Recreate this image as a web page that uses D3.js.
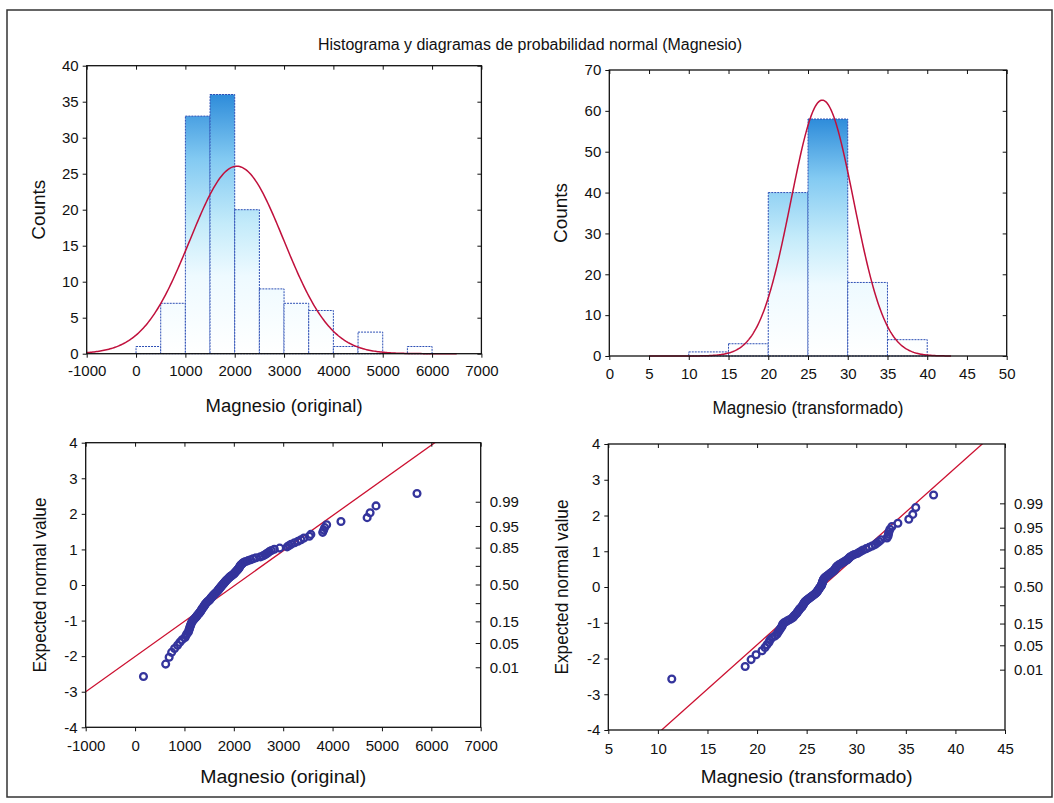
<!DOCTYPE html>
<html>
<head>
<meta charset="utf-8">
<script src="https://cdn.jsdelivr.net/npm/d3@7"></script>
<style>
  body { margin: 0; background: #fff; }
  svg { display: block; }
  text { font-family: "Liberation Sans", Arial, sans-serif; fill: #111; }
</style>
</head>
<body>
<svg id="chart" width="1054" height="803"></svg>
<script>
// ---- data ----------------------------------------------------------------
// Histogram of the original magnesium values (bin edges, counts per bin)
const origBinEdges = [-500, 0, 500, 1000, 1500, 2000, 2500, 3000, 3500, 4000, 4500, 5000, 5500, 6000, 6500];
const origCounts   = [0, 1, 7, 33, 36, 20, 9, 7, 6, 1, 3, 0, 1, 0];

// Histogram of the transformed values
const transBinEdges = [5, 10, 15, 20, 25, 30, 35, 40, 45];
const transCounts   = [0, 1, 3, 40, 58, 18, 4, 0];

// Normal fits drawn over the histograms
const origFit  = [2043, 950];   // mean, sd
const transFit = [26.8, 3.95];

// Reference lines of the normal probability plots
const origLine  = [2030, 1010]; // mean, sd
const transLine = [26.54, 4.04];

// Sorted observations (original scale)
const origValues = [
  170,
  620, 690, 740, 800, 860, 905, 950,
  1010, 1030, 1050, 1080, 1090, 1100, 1110, 1120, 1130, 1140, 1150, 1170,
  1190, 1210, 1230, 1250, 1260, 1280, 1300, 1310, 1330, 1340,
  1350, 1360, 1375, 1390, 1400, 1410, 1420, 1435, 1450, 1465, 1480,
  1505, 1515, 1530, 1540, 1555, 1570, 1580, 1595, 1610, 1625, 1640, 1655, 1668,
  1680, 1690, 1700, 1715, 1725, 1740, 1750, 1760, 1775, 1785, 1800, 1810, 1825, 1836,
  1850, 1865, 1880, 1895, 1910, 1925, 1945, 1965, 1985,
  2005, 2015, 2030, 2045, 2060, 2075, 2090, 2100, 2110, 2120, 2130, 2140, 2160, 2180, 2200, 2240, 2290, 2340, 2390, 2450,
  2540, 2590, 2630, 2660, 2690, 2720, 2760, 2820, 2930,
  3080, 3120, 3160, 3230, 3300, 3360, 3420,
  3530, 3560, 3800, 3820, 3840, 3880,
  4170,
  4700, 4760, 4880,
  5710
];

// Sorted observations (transformed scale)
const transValues = [
  11.4,
  18.8, 19.4, 19.9,
  20.5, 20.8, 21.0, 21.2, 21.3, 21.5, 21.8, 22.0, 22.1, 22.2, 22.3, 22.4, 22.5, 22.55, 22.6, 22.7,
  22.9, 23.1, 23.3, 23.5, 23.65, 23.7, 23.8, 23.9, 24.0, 24.05, 24.1, 24.2, 24.25, 24.3, 24.4, 24.5,
  24.55, 24.6, 24.65, 24.7, 24.75, 24.8, 24.85, 24.95,
  25.05, 25.15, 25.25, 25.35, 25.45, 25.55, 25.65, 25.75, 25.85, 25.9, 26.0, 26.05, 26.1, 26.15, 26.2,
  26.25, 26.3, 26.35, 26.4, 26.45, 26.5, 26.52, 26.55, 26.57, 26.6, 26.62, 26.65, 26.68, 26.7, 26.75,
  26.8, 26.9, 27.0, 27.1, 27.2, 27.3, 27.4, 27.5, 27.6, 27.7, 27.8, 27.85, 27.9, 27.95, 28.0, 28.1,
  28.2, 28.35, 28.5, 28.65, 28.8, 28.95, 29.1, 29.2, 29.3, 29.4, 29.6, 29.8,
  30.1, 30.3, 30.5, 30.7, 31.0, 31.3, 31.6, 31.9, 32.1, 32.3, 32.5, 33.1, 33.2, 33.25, 33.3, 33.4, 33.6, 34.2,
  35.3, 35.7, 36.0, 37.8
];

// Tick values
const origTicks       = [-1000, 0, 1000, 2000, 3000, 4000, 5000, 6000, 7000];
const transHistTicks  = [0, 5, 10, 15, 20, 25, 30, 35, 40, 45, 50];
const transQQTicks    = [5, 10, 15, 20, 25, 30, 35, 40, 45];
const countTicksOrig  = [0, 5, 10, 15, 20, 25, 30, 35, 40];
const countTicksTrans = [0, 10, 20, 30, 40, 50, 60, 70];
const zTicks          = [-4, -3, -2, -1, 0, 1, 2, 3, 4];
const probTicks       = [0.01, 0.05, 0.15, 0.3, 0.5, 0.7, 0.85, 0.95, 0.99];
const probLabels      = ["0.01", "0.05", "0.15", "", "0.50", "", "0.85", "0.95", "0.99"];

// Text
const titleText      = "Histograma y diagramas de probabilidad normal (Magnesio)";
const labelOriginal  = "Magnesio (original)";
const labelTransf    = "Magnesio (transformado)";
const labelCounts    = "Counts";
const labelExpected  = "Expected normal value";

// ---- helpers ---------------------------------------------------------------
// Inverse of the standard normal CDF (Acklam's rational approximation)
function probit(p) {
  const a = [-3.969683028665376e+01, 2.209460984245205e+02, -2.759285104469687e+02,
             1.383577518672690e+02, -3.066479806614716e+01, 2.506628277459239e+00];
  const b = [-5.447609879822406e+01, 1.615858368580409e+02, -1.556989798598866e+02,
             6.680131188771972e+01, -1.328068155288572e+01];
  const c = [-7.784894002430293e-03, -3.223964580411365e-01, -2.400758277161838e+00,
             -2.549732539343734e+00, 4.374664141464968e+00, 2.938163982698783e+00];
  const d = [7.784695709041462e-03, 3.224671290700398e-01, 2.445134137142996e+00,
             3.754408661907416e+00];
  const pl = 0.02425, ph = 1 - pl;
  let q, r;
  if (p < pl) {
    q = Math.sqrt(-2 * Math.log(p));
    return (((((c[0]*q+c[1])*q+c[2])*q+c[3])*q+c[4])*q+c[5]) / ((((d[0]*q+d[1])*q+d[2])*q+d[3])*q+1);
  }
  if (p <= ph) {
    q = p - 0.5; r = q * q;
    return (((((a[0]*r+a[1])*r+a[2])*r+a[3])*r+a[4])*r+a[5])*q / (((((b[0]*r+b[1])*r+b[2])*r+b[3])*r+b[4])*r+1);
  }
  q = Math.sqrt(-2 * Math.log(1 - p));
  return -(((((c[0]*q+c[1])*q+c[2])*q+c[3])*q+c[4])*q+c[5]) / ((((d[0]*q+d[1])*q+d[2])*q+d[3])*q+1);
}

const normPdf = (x, m, s) => Math.exp(-0.5 * ((x - m) / s) ** 2) / (s * Math.sqrt(2 * Math.PI));
// plain hyphen for negative tick values
const plainFormat = v => String(v);

const svg = d3.select("#chart");
const defs = svg.append("defs");

// Page frame and title
svg.append("rect").attr("x", 7).attr("y", 10).attr("width", 1045).attr("height", 787)
  .attr("fill", "none").attr("stroke", "#333").attr("stroke-width", 1.5);

svg.append("text").attr("x", 530).attr("y", 50).attr("text-anchor", "middle")
  .attr("font-size", 16).attr("textLength", 424).attr("lengthAdjust", "spacingAndGlyphs")
  .text(titleText);

const TICK_FONT = 15;

function styleAxis(g) {
  g.select(".domain").remove();
  g.selectAll(".tick line").attr("stroke", "#111").attr("stroke-width", 1);
  g.selectAll(".tick text").attr("font-size", TICK_FONT).attr("fill", "#111")
    .style("font-family", '"Liberation Sans", Arial, sans-serif');
}

function frame(g, x, y) {
  const [x0, x1] = x.range(), [y0, y1] = y.range();
  g.append("rect").attr("x", x0).attr("y", y1).attr("width", x1 - x0).attr("height", y0 - y1)
    .attr("fill", "none").attr("stroke", "#111").attr("stroke-width", 1.3);
}

function axisTitles(g, x, y, xLabel, xLabelY, xLabelLen, yLabel, yLabelX, yLabelLen, fs) {
  const [x0, x1] = x.range(), [y0, y1] = y.range();
  g.append("text").attr("x", (x0 + x1) / 2).attr("y", xLabelY).attr("text-anchor", "middle")
    .attr("font-size", fs).attr("textLength", xLabelLen).attr("lengthAdjust", "spacingAndGlyphs")
    .text(xLabel);
  g.append("text").attr("transform", `translate(${yLabelX},${(y0 + y1) / 2}) rotate(-90)`)
    .attr("text-anchor", "middle").attr("font-size", fs)
    .attr("textLength", yLabelLen).attr("lengthAdjust", "spacingAndGlyphs")
    .text(yLabel);
}

// ---- histogram panel -----------------------------------------------------
function histogram(opt) {
  const g = svg.append("g");
  const x = d3.scaleLinear().domain(opt.xDomain).range(opt.xRange);
  const y = d3.scaleLinear().domain(opt.yDomain).range(opt.yRange);

  const gid = "grad" + opt.id;
  const maxCount = d3.max(opt.counts);
  const grad = defs.append("linearGradient").attr("id", gid)
    .attr("gradientUnits", "userSpaceOnUse")
    .attr("x1", 0).attr("x2", 0).attr("y1", y(0)).attr("y2", y(maxCount));
  [[0, "#ffffff"], [0.3, "#eefaff"], [0.5, "#c4ebfa"], [0.75, "#83caf2"], [1, "#2e8cda"]]
    .forEach(([o, c]) => grad.append("stop").attr("offset", o).attr("stop-color", c));

  const bins = opt.counts.map((c, i) => ({ x0: opt.edges[i], x1: opt.edges[i + 1], count: c }));
  g.selectAll("rect.bar").data(bins).join("rect").attr("class", "bar")
    .attr("x", d => x(d.x0)).attr("width", d => x(d.x1) - x(d.x0))
    .attr("y", d => y(d.count)).attr("height", d => y(0) - y(d.count))
    .attr("fill", `url(#${gid})`)
    .attr("stroke", "#2d4fb5").attr("stroke-width", 1).attr("stroke-dasharray", "2,1");

  // fitted normal density scaled to counts
  const [m, s] = opt.fit;
  const n = d3.sum(opt.counts), w = opt.edges[1] - opt.edges[0];
  const xs = d3.range(0, 301).map(i => opt.curveDomain[0] + (opt.curveDomain[1] - opt.curveDomain[0]) * i / 300);
  g.append("path").datum(xs)
    .attr("d", d3.line().x(v => x(v)).y(v => y(n * w * normPdf(v, m, s))))
    .attr("fill", "none").attr("stroke", "#c0103c").attr("stroke-width", 1.5);

  frame(g, x, y);

  g.append("g").attr("transform", `translate(0,${opt.yRange[0]})`)
    .call(d3.axisBottom(x).tickValues(opt.xTicks).tickSize(4).tickPadding(8).tickFormat(plainFormat))
    .call(styleAxis);
  g.append("g").attr("transform", `translate(0,${opt.yRange[1]})`)
    .call(d3.axisTop(x).tickValues(opt.xTicks).tickSize(-4).tickFormat(""))
    .call(styleAxis);
  g.append("g").attr("transform", `translate(${opt.xRange[0]},0)`)
    .call(d3.axisLeft(y).tickValues(opt.yTicks).tickSize(4).tickPadding(4).tickFormat(plainFormat))
    .call(styleAxis);
  g.append("g").attr("transform", `translate(${opt.xRange[1]},0)`)
    .call(d3.axisRight(y).tickValues(opt.yTicks).tickSize(-4).tickFormat(""))
    .call(styleAxis);

  axisTitles(g, x, y, opt.xLabel, opt.xLabelY, opt.xLabelLen, labelCounts, opt.yLabelX, opt.yLabelLen, 18);
}

// ---- normal probability panel ------------------------------------------------
function probPlot(opt) {
  const g = svg.append("g");
  const x = d3.scaleLinear().domain(opt.xDomain).range(opt.xRange);
  const y = d3.scaleLinear().domain([-4, 4]).range(opt.yRange);

  const clipId = "clip" + opt.id;
  defs.append("clipPath").attr("id", clipId).append("rect")
    .attr("x", opt.xRange[0]).attr("y", opt.yRange[1])
    .attr("width", opt.xRange[1] - opt.xRange[0]).attr("height", opt.yRange[0] - opt.yRange[1]);

  // reference line z = (x - mean) / sd
  const [m, s] = opt.line;
  const lx = [m - 5 * s, m + 5 * s];
  g.append("line").attr("clip-path", `url(#${clipId})`)
    .attr("x1", x(lx[0])).attr("y1", y(-5)).attr("x2", x(lx[1])).attr("y2", y(5))
    .attr("stroke", "#cc1030").attr("stroke-width", 1.3);

  // expected normal values from ranks (Blom positions)
  const vals = opt.values.slice().sort((a, b) => a - b);
  const n = vals.length;
  const pts = vals.map((v, i) => [v, probit((i + 1 - 0.375) / (n + 0.25))]);
  g.selectAll("circle").data(pts).join("circle")
    .attr("cx", d => x(d[0])).attr("cy", d => y(d[1])).attr("r", 3.4)
    .attr("fill", "none").attr("stroke", "#34349c").attr("stroke-width", 2.3);

  frame(g, x, y);

  g.append("g").attr("transform", `translate(0,${opt.yRange[0]})`)
    .call(d3.axisBottom(x).tickValues(opt.xTicks).tickSize(4).tickPadding(9).tickFormat(plainFormat))
    .call(styleAxis);
  g.append("g").attr("transform", `translate(0,${opt.yRange[1]})`)
    .call(d3.axisTop(x).tickValues(opt.xTicks).tickSize(-4).tickFormat(""))
    .call(styleAxis);
  g.append("g").attr("transform", `translate(${opt.xRange[0]},0)`)
    .call(d3.axisLeft(y).tickValues(zTicks).tickSize(4).tickPadding(4).tickFormat(plainFormat))
    .call(styleAxis);
  // probability scale on the right edge
  const yp = p => y(probit(p));
  const right = g.append("g").attr("transform", `translate(${opt.xRange[1]},0)`);
  right.selectAll("line").data(probTicks).join("line")
    .attr("x1", -5).attr("x2", 0).attr("y1", d => yp(d)).attr("y2", d => yp(d))
    .attr("stroke", "#111");
  right.selectAll("text").data(probTicks).join("text")
    .attr("x", 9).attr("y", d => yp(d)).attr("dy", "0.35em")
    .attr("font-size", TICK_FONT).text((d, i) => probLabels[i]);

  axisTitles(g, x, y, opt.xLabel, opt.xLabelY, opt.xLabelLen, labelExpected, opt.yLabelX, opt.yLabelLen, 18);
}

histogram({
  id: 1, edges: origBinEdges, counts: origCounts, fit: origFit,
  xDomain: [-1000, 7000], xRange: [86.7, 481.4], yDomain: [0, 40], yRange: [353.7, 65.7],
  curveDomain: [-1000, 6500], xTicks: origTicks, yTicks: countTicksOrig,
  xLabel: labelOriginal, xLabelY: 412, xLabelLen: 157, yLabelX: 45, yLabelLen: 60
});
histogram({
  id: 2, edges: transBinEdges, counts: transCounts, fit: transFit,
  xDomain: [0, 50], xRange: [609.3, 1006.7], yDomain: [0, 70], yRange: [356, 70],
  curveDomain: [5, 43], xTicks: transHistTicks, yTicks: countTicksTrans,
  xLabel: labelTransf, xLabelY: 414, xLabelLen: 191, yLabelX: 567, yLabelLen: 60
});
probPlot({
  id: 3, values: origValues, line: origLine,
  xDomain: [-1000, 7000], xRange: [85.7, 480.7], yRange: [727.3, 442.7],
  xTicks: origTicks, xLabel: labelOriginal, xLabelY: 783, xLabelLen: 166,
  yLabelX: 46, yLabelLen: 175
});
probPlot({
  id: 4, values: transValues, line: transLine,
  xDomain: [5, 45], xRange: [608.3, 1005], yRange: [730, 444],
  xTicks: transQQTicks, xLabel: labelTransf, xLabelY: 783, xLabelLen: 212,
  yLabelX: 568, yLabelLen: 175
});
</script>
</body>
</html>
